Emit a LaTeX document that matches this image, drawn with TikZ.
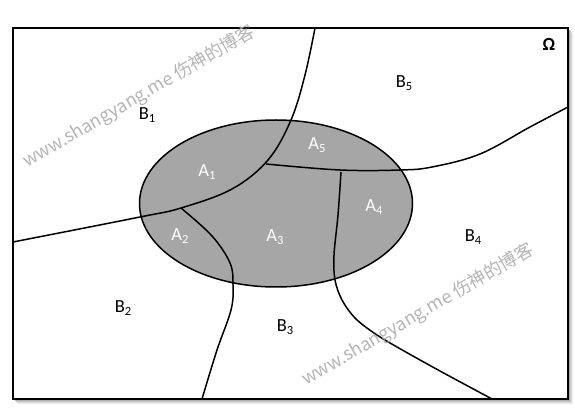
\documentclass[tikz,border=0pt]{standalone}
\usepackage{fontspec}
\setmainfont{Carlito}
\newfontfamily\cjk{Noto Sans CJK SC}
\newcommand\lsub[1]{\raisebox{-0.3ex}{\fontsize{12.5}{13}\selectfont #1}}
\tikzset{
  curve/.style={line width=1.5pt, black},
  blab/.style={font=\fontsize{18.5}{20}\selectfont, text=black, inner sep=0pt},
  alab/.style={font=\fontsize{18.5}{20}\selectfont, text=white, inner sep=0pt},
  wmark/.style={font=\cjk\fontsize{18}{20}\selectfont, text=black!32, rotate=30, opacity=0.9, inner sep=0pt}
}
\begin{document}
\begin{tikzpicture}[x=1pt,y=-1pt]
\useasboundingbox (0,0) rectangle (575,411);
% shadow
\foreach \o/\c in {5/8,4/14,3/22,2/32}{
  \fill[black!\c] (13+\o,28+\o) rectangle (568+\o,399+\o);
}
\filldraw[fill=white, draw=black, line width=2pt] (13,28) rectangle (568,399);
% ellipse
\filldraw[fill={rgb,255:red,166;green,166;blue,166}, draw=black, line width=1.5pt] (276,203.5) ellipse [x radius=136.5, y radius=83.5];
\coordinate (p) at (181,208);
\coordinate (q) at (266,164);
% curves
\draw[curve] plot[smooth, tension=0.6] coordinates {(315,28) (305,75) (291,120) (268,160) (232,189) (181,208) (140,217) (13,242)};
\draw[curve] plot[smooth, tension=0.6] coordinates {(q) (340,170) (400,170) (432,167) (480,154) (530,127) (568,107)};
\draw[curve] plot[smooth, tension=0.55] coordinates {(341,172) (338,215) (334,255) (335,280) (342,300) (355,318) (374,333) (397,347) (440,371) (492,399)};
\draw[curve] plot[smooth, tension=0.6] coordinates {(p) (212,236) (230,263) (233,285) (231,310) (217,350) (202,399)};
% labels
\node[blab] (b1) at (147,115) {B\lsub{1}};
\node[blab] (b2) at (123,308) {B\lsub{2}};
\node[blab] (b3) at (285,327) {B\lsub{3}};
\node[blab] (b4) at (473,237) {B\lsub{4}};
\node[blab] (b5) at (404,83) {B\lsub{5}};
\node[blab, font=\fontsize{18.5}{20}\selectfont\bfseries] (om) at (549,44) {Ω};
\node[alab] (a1) at (207,172) {A\lsub{1}};
\node[alab] (a2) at (180,236) {A\lsub{2}};
\node[alab] (a3) at (275,237) {A\lsub{3}};
\node[alab] (a4) at (374,207) {A\lsub{4}};
\node[alab] (a5) at (317,145) {A\lsub{5}};
% watermarks
\node[wmark] (w1) at (139,97) {www.shangyang.me 伤神的博客};
\node[wmark] (w2) at (418,315) {www.shangyang.me 伤神的博客};
\end{tikzpicture}
\end{document}
